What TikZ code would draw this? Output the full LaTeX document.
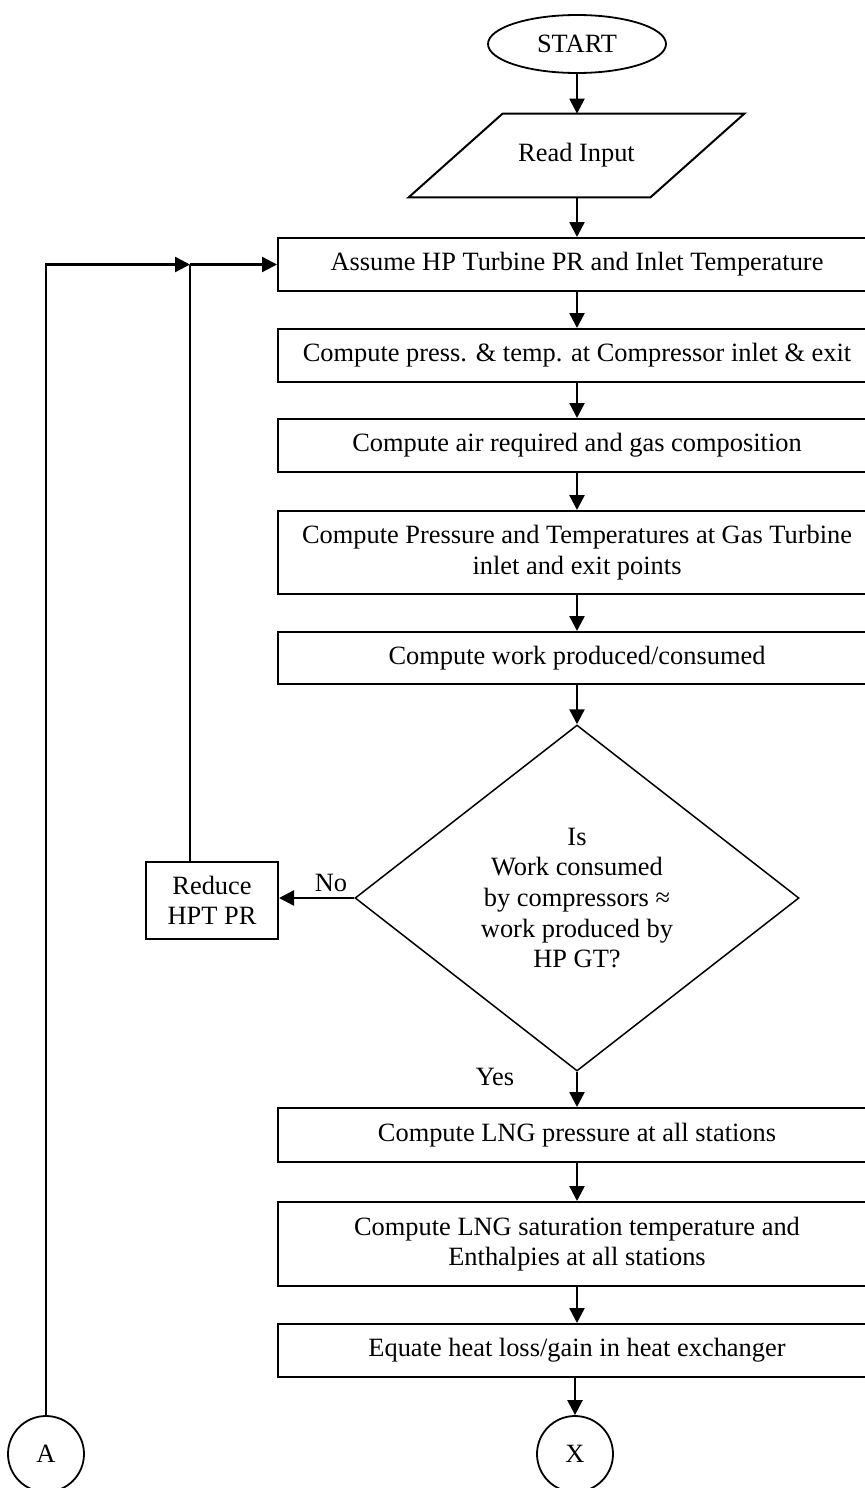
\documentclass[tikz,border=0pt]{standalone}
\usepackage{fontspec}
\setmainfont{Liberation Serif}
\usetikzlibrary{shapes.geometric,arrows.meta,calc}
\begin{document}
\begin{tikzpicture}[x=0.5pt,y=-0.5pt,
  every node/.style={font=\fontsize{13.2}{15.3}\selectfont, inner sep=0pt},
  procbox/.style={draw, line width=1pt, minimum width=299pt, align=center},
  arr/.style={-{Triangle[length=7.5pt,width=7.5pt]}, line width=1.2pt},
  conn/.style={draw, ellipse, line width=0.9pt, minimum width=38pt, minimum height=38pt}
]
\clip (0,0) rectangle (865,1488);
\fill[white] (0,0) rectangle (865,1488);
% start and input
\node[draw, ellipse, line width=0.9pt, minimum width=89pt, minimum height=29pt] (start) at (577,44) {START};
\node[minimum width=167.5pt, minimum height=41.5pt] (read) at (576.5,155.5) {Read Input};
\draw[line width=1pt] ($(read.north west)+(94,0)$) -- (read.north east) -- ($(read.south east)-(94,0)$) -- (read.south west) -- cycle;
% process boxes
\node[procbox, minimum height=26.5pt] (b1) at (577,264.5) {Assume HP Turbine PR and Inlet Temperature};
\node[procbox, minimum height=26.5pt] (b2) at (577,355.5) {Compute press. \& temp. at Compressor inlet \& exit};
\node[procbox, minimum height=26.5pt] (b3) at (577,445.5) {Compute air required and gas composition};
\node[procbox, minimum height=41.5pt] (b4) at (577,552.5) {Compute Pressure and Temperatures at Gas Turbine\\inlet and exit points};
\node[procbox, minimum height=26pt] (b5) at (577,658) {Compute work produced/consumed};
\node[draw, diamond, line width=0.75pt, minimum width=222pt, minimum height=173pt, align=center] (dec) at (577,898) {Is\\Work consumed\\by compressors ≈\\work produced by\\HP GT?};
\node[procbox, minimum height=27pt] (b6) at (577,1135) {Compute LNG pressure at all stations};
\node[procbox, minimum height=42pt] (b7) at (577,1244) {Compute LNG saturation temperature and\\Enthalpies at all stations};
\node[procbox, minimum height=26.5pt] (b8) at (577,1350.5) {Equate heat loss/gain in heat exchanger};
\node[draw, line width=1pt, minimum width=66pt, minimum height=38.5pt, align=center] (red) at (212,900.5) {Reduce\\HPT PR};
\node[conn] (A) at (46,1454) {A};
\node[conn] (X) at (575,1454) {X};
\node (no) at (331,883) {No};
\node (yes) at (495,1077) {Yes};
% connectors
\draw[arr] (start.south) -- (start.south |- read.north);
\draw[arr] (read.south -| b1.north) -- (b1.north);
\draw[arr] (b1.south) -- (b2.north);
\draw[arr] (b2.south) -- (b3.north);
\draw[arr] (b3.south) -- (b4.north);
\draw[arr] (b4.south) -- (b5.north);
\draw[arr] (b5.south) -- (dec.north);
\draw[arr] (dec.south) -- (b6.north);
\draw[arr] (b6.south) -- (b7.north);
\draw[arr] (b7.south) -- (b8.north);
\draw[arr] (b8.south -| X.north) -- (X.north);
\draw[arr] (dec.west) -- (dec.west -| red.east);
\coordinate (jx) at (190,0);
\coordinate (j) at (b1.west -| jx);
\draw[line width=0.6pt] (red.north -| jx) -- (j);
\draw[arr] (A.north) |- (j);
\draw[arr] (j) -- (b1.west);
\end{tikzpicture}
\end{document}
